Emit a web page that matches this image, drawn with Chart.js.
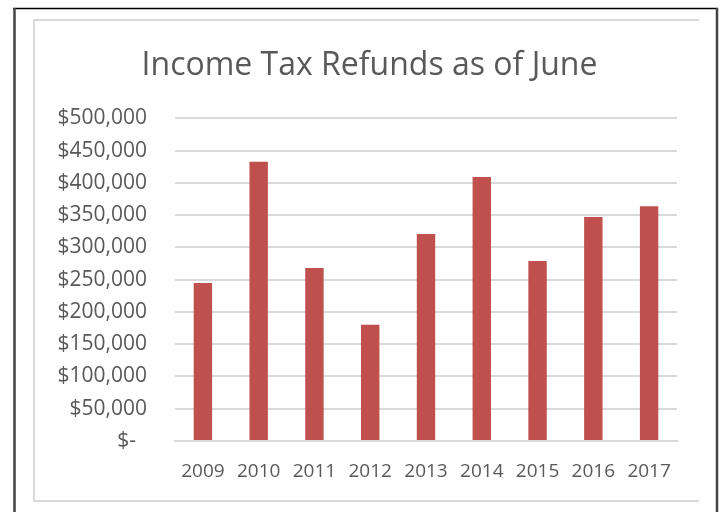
<!DOCTYPE html>
<html>
<head>
<meta charset="utf-8">
<script src="https://cdn.jsdelivr.net/npm/chart.js@4"></script>
<style>
  html, body { margin: 0; padding: 0; background: #ffffff; }
  #wrap { position: relative; width: 721px; height: 512px; }
  canvas { display: block; }
</style>
</head>
<body>
<div id="wrap"><canvas id="c" width="721" height="512"></canvas></div>
<script>
const chartTitle = 'Income Tax Refunds as of June';
const categories = ['2009', '2010', '2011', '2012', '2013', '2014', '2015', '2016', '2017'];
const refunds = [245000, 433000, 268000, 180000, 321000, 409000, 279000, 347000, 364000];
const yTickStep = 50000;
const yMax = 500000;

const fontFamily = '"Open Sans", "DejaVu Sans", sans-serif';
const textColor = '#595959';

const framePlugin = {
  id: 'frames',
  beforeDraw(chart) {
    const ctx = chart.ctx;
    ctx.save();
    ctx.fillStyle = '#ffffff';
    ctx.fillRect(0, 0, chart.width, chart.height);
    // inner light frame (left, top, bottom)
    ctx.strokeStyle = '#d9d9d9';
    ctx.lineWidth = 2;
    ctx.beginPath();
    ctx.moveTo(699, 20);
    ctx.lineTo(34, 20);
    ctx.lineTo(34, 501);
    ctx.lineTo(699, 501);
    ctx.stroke();
    // outer dark frame
    ctx.strokeStyle = '#000000';
    ctx.lineWidth = 1.5;
    ctx.beginPath();
    ctx.moveTo(13, 8.5);
    ctx.lineTo(718, 8.5);
    ctx.stroke();
    ctx.strokeStyle = '#444444';
    ctx.lineWidth = 2.5;
    ctx.beginPath();
    ctx.moveTo(14.5, 8);
    ctx.lineTo(14.5, 512);
    ctx.moveTo(717, 8);
    ctx.lineTo(717, 512);
    ctx.stroke();
    ctx.restore();
  }
};

new Chart(document.getElementById('c'), {
  type: 'bar',
  data: {
    labels: categories,
    datasets: [{
      label: 'Refunds',
      data: refunds,
      backgroundColor: '#c0504d',
      borderWidth: 0,
      barPercentage: 0.33,
      categoryPercentage: 1.0
    }]
  },
  options: {
    responsive: false,
    animation: false,
    devicePixelRatio: 1,
    layout: { padding: { left: 40, right: 22, top: 18, bottom: 18 } },
    plugins: {
      legend: { display: false },
      tooltip: { enabled: false },
      title: {
        display: true,
        text: chartTitle,
        color: textColor,
        font: { family: fontFamily, size: 32, weight: 'normal', lineHeight: 1.2 },
        padding: { top: 29, bottom: 33 }
      }
    },
    scales: {
      x: {
        grid: { display: false, drawTicks: false },
        border: { display: true, color: '#d9d9d9', width: 2 },
        ticks: { color: textColor, font: { family: fontFamily, size: 19 }, padding: 19, maxRotation: 0 },
        afterFit(s) { s.height = 53; }
      },
      y: {
        min: 0,
        max: yMax,
        grid: { color: '#d9d9d9', lineWidth: 2, drawTicks: false },
        border: { display: false },
        ticks: {
          stepSize: yTickStep,
          color: textColor,
          font: { family: fontFamily, size: 21 },
          padding: 28,
          callback: (v) => v === 0 ? '$-\u00a0\u00a0' : '$' + Number(v).toLocaleString('en-US')
        },
        afterFit(s) { s.width = 135; }
      },
      yRight: {
        position: 'right',
        display: true,
        grid: { display: false, drawTicks: false },
        border: { display: false },
        ticks: { display: false },
        afterFit(s) { s.width = 22; }
      }
    }
  },
  plugins: [framePlugin]
});
</script>
</body>
</html>
